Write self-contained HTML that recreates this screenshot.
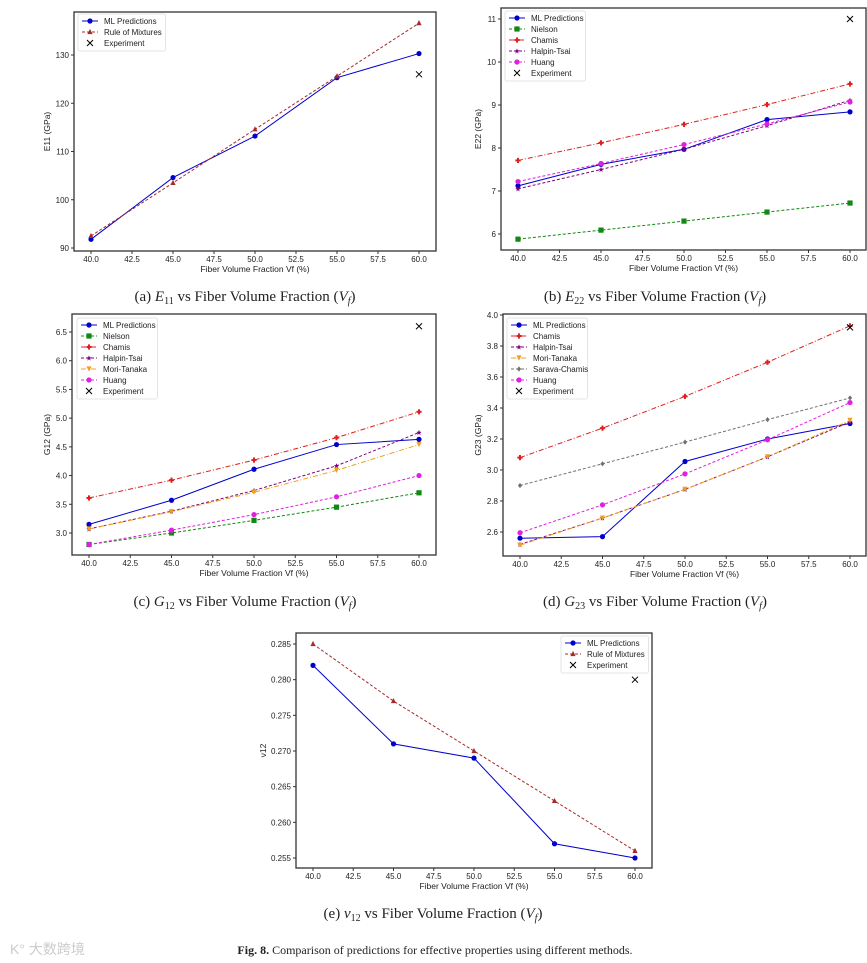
<!DOCTYPE html>
<html><head><meta charset="utf-8"><style>
body{margin:0;background:#fff;width:867px;height:963px;overflow:hidden;font-family:"Liberation Sans",sans-serif}
svg{position:absolute;left:0;top:0}
.cap{font-family:"Liberation Serif",serif;font-size:15px;fill:#222}
</style></head><body>
<svg id="fig" width="867" height="963"></svg>
<script>
const xCats=[40,45,50,55,60];
const xTicks=[40,42.5,45,47.5,50,52.5,55,57.5,60];
// (a) E11
const aML=[91.8,104.6,113.2,125.3,130.3];
const aRoM=[92.5,103.5,114.6,125.6,136.6];
const aExp=[126];
const aTicks=[90,100,110,120,130];
// (b) E22
const bML=[7.12,7.62,7.97,8.66,8.84];
const bNielson=[5.88,6.09,6.30,6.51,6.72];
const bChamis=[7.71,8.12,8.55,9.01,9.49];
const bHT=[7.05,7.50,7.97,8.52,9.11];
const bHuang=[7.22,7.64,8.08,8.56,9.07];
const bExp=[11];
const bTicks=[6,7,8,9,10,11];
// (c) G12
const cML=[3.15,3.57,4.11,4.54,4.63];
const cNielson=[2.80,3.00,3.22,3.45,3.70];
const cChamis=[3.61,3.92,4.27,4.66,5.11];
const cHT=[3.07,3.38,3.74,4.17,4.75];
const cMT=[3.07,3.37,3.71,4.09,4.54];
const cHuang=[2.80,3.05,3.32,3.63,4.00];
const cExp=[6.6];
const cTicks=[3.0,3.5,4.0,4.5,5.0,5.5,6.0,6.5];
// (d) G23
const dML=[2.56,2.57,3.055,3.20,3.30];
const dChamis=[3.08,3.27,3.475,3.695,3.93];
const dHT=[2.52,2.69,2.875,3.085,3.31];
const dMT=[2.515,2.69,2.875,3.085,3.32];
const dSC=[2.90,3.04,3.18,3.325,3.465];
const dHuang=[2.595,2.775,2.975,3.195,3.435];
const dExp=[3.92];
const dTicks=[2.6,2.8,3.0,3.2,3.4,3.6,3.8,4.0];
// (e) nu12
const eML=[0.282,0.271,0.269,0.257,0.255];
const eRoM=[0.285,0.277,0.270,0.263,0.256];
const eExp=[0.280];
const eTicks=[0.255,0.260,0.265,0.270,0.275,0.280,0.285];

const NS='http://www.w3.org/2000/svg';
const svg=document.getElementById('fig');
function mk(tag,attrs,parent){const e=document.createElementNS(NS,tag);for(const k in attrs)e.setAttribute(k,attrs[k]);(parent||svg).appendChild(e);return e;}
const STY={
 ml:{c:'#0000cc',d:'',m:'circle',name:'ML Predictions'},
 rom:{c:'#a52a2a',d:'3,2',m:'tri',name:'Rule of Mixtures'},
 niel:{c:'#118811',d:'3,2',m:'square',name:'Nielson'},
 cham:{c:'#e02020',d:'5,2,1,2',m:'plus',name:'Chamis'},
 ht:{c:'#800080',d:'3,2',m:'star',name:'Halpin-Tsai'},
 mt:{c:'#f0a020',d:'5,2,1,2',m:'dtri',name:'Mori-Tanaka'},
 sc:{c:'#707070',d:'3,2',m:'diamond',name:'Sarava-Chamis'},
 hu:{c:'#e020e0',d:'3,2',m:'circle',name:'Huang'}
};
function marker(g,type,x,y,c){
 const r=2.6;
 if(type==='circle')mk('circle',{cx:x,cy:y,r:r,fill:c},g);
 else if(type==='square')mk('rect',{x:x-r,y:y-r,width:2*r,height:2*r,fill:c},g);
 else if(type==='tri')mk('polygon',{points:`${x},${y-r-0.5} ${x-r},${y+r-0.5} ${x+r},${y+r-0.5}`,fill:c},g);
 else if(type==='dtri')mk('polygon',{points:`${x},${y+r} ${x-r},${y-r} ${x+r},${y-r}`,fill:c},g);
 else if(type==='diamond')mk('polygon',{points:`${x},${y-r} ${x+r*0.8},${y} ${x},${y+r} ${x-r*0.8},${y}`,fill:c},g);
 else if(type==='plus'){mk('rect',{x:x-r,y:y-1,width:2*r,height:2,fill:c},g);mk('rect',{x:x-1,y:y-r,width:2,height:2*r,fill:c},g);}
 else if(type==='star')mk('polygon',{points:`${x},${y-r} ${x+0.8},${y-0.8} ${x+r},${y-0.6} ${x+1.2},${y+0.6} ${x+1.6},${y+r} ${x},${y+1.3} ${x-1.6},${y+r} ${x-1.2},${y+0.6} ${x-r},${y-0.6} ${x-0.8},${y-0.8}`,fill:c},g);
 else if(type==='x'){mk('path',{d:`M${x-3},${y-3}L${x+3},${y+3}M${x-3},${y+3}L${x+3},${y-3}`,stroke:'#000','stroke-width':1},g);}
}
function chart(o){
 const g=mk('g',{});
 
 
 const sx=v=>o.x40+(v-40)*(o.x60-o.x40)/20;
 const sy=v=>o.ya+(v-o.va)*(o.yb-o.ya)/(o.vb-o.va);
 mk('rect',{x:o.L,y:o.T,width:o.R-o.L,height:o.B-o.T,fill:'none',stroke:'#333','stroke-width':1.3},g);
 xTicks.forEach(t=>{const x=sx(t);mk('line',{x1:x,x2:x,y1:o.B,y2:o.B+3,stroke:'#333'},g);
  const tx=mk('text',{x:x,y:o.B+11,'font-size':8,'text-anchor':'middle',fill:'#222'},g);tx.textContent=t.toFixed(1);});
 o.yt.forEach(t=>{const y=sy(t);mk('line',{x1:o.L-3,x2:o.L,y1:y,y2:y,stroke:'#333'},g);
  const tx=mk('text',{x:o.L-5,y:y+3,'font-size':8,'text-anchor':'end',fill:'#222'},g);tx.textContent=t.toFixed(o.dec);});
 const xl=mk('text',{x:(o.L+o.R)/2,y:o.B+21,'font-size':8.5,'text-anchor':'middle',fill:'#222'},g);xl.textContent='Fiber Volume Fraction Vf (%)';
 
 const yx=o.L-o.ylOff, yy=(o.T+o.B)/2;
 const yl=mk('text',{x:yx,y:yy,'font-size':8.5,'text-anchor':'middle',fill:'#222',transform:`rotate(-90 ${yx} ${yy})`},g);yl.textContent=o.ylabel;
 
 o.series.forEach(([key,vals])=>{const s=STY[key];
  const sg=mk('g',{},g);
  mk('polyline',{points:vals.map((v,i)=>sx(xCats[i])+','+sy(v)).join(' '),fill:'none',stroke:s.c,'stroke-width':1,'stroke-dasharray':s.d},sg);
  vals.forEach((v,i)=>marker(sg,s.m,sx(xCats[i]),sy(v),s.c));});
 const eg=mk('g',{},g);
 o.exp.forEach(v=>marker(eg,'x',sx(60),sy(v)));
 const keys=o.series.map(s=>s[0]).concat(['exp']);
 const lg=mk('g',{},g);
 let maxw=0;keys.forEach(k=>{const n=k==='exp'?'Experiment':STY[k].name;maxw=Math.max(maxw,n.length);});
 const w=30+maxw*3.6,h=keys.length*11+4;
 mk('rect',{x:o.lx,y:o.ly,width:w,height:h,fill:'#fff',stroke:'#ddd','stroke-width':0.8,rx:2},lg);
 keys.forEach((k,i)=>{const y=o.ly+7+i*11;
  const eg2=mk('g',{},lg);
  if(k==='exp'){marker(eg2,'x',o.lx+12,y);}else{const s=STY[k];
   mk('line',{x1:o.lx+4,x2:o.lx+20,y1:y,y2:y,stroke:s.c,'stroke-width':1,'stroke-dasharray':s.d},eg2);marker(eg2,s.m,o.lx+12,y,s.c);}
  const t=mk('text',{x:o.lx+26,y:y+3,'font-size':8,fill:'#222'},eg2);t.textContent=k==='exp'?'Experiment':STY[k].name;});
}
chart({name:'chart-e11',L:74,T:12,R:436,B:251,x40:91,x60:419,va:130,ya:55,vb:90,yb:248,yt:aTicks,dec:0,ylabel:'E11 (GPa)',ylOff:24,
 series:[['ml',aML],['rom',aRoM]],exp:aExp,lx:78,ly:14});
chart({name:'chart-e22',L:501,T:8,R:866,B:250,x40:518,x60:850,va:11,ya:19,vb:6,yb:234,yt:bTicks,dec:0,ylabel:'E22 (GPa)',ylOff:20,
 series:[['ml',bML],['niel',bNielson],['cham',bChamis],['ht',bHT],['hu',bHuang]],exp:bExp,lx:505,ly:11});
chart({name:'chart-g12',L:72,T:314,R:436,B:555,x40:89,x60:419,va:6.5,ya:332,vb:3.0,yb:533,yt:cTicks,dec:1,ylabel:'G12 (GPa)',ylOff:22,
 series:[['ml',cML],['niel',cNielson],['cham',cChamis],['ht',cHT],['mt',cMT],['hu',cHuang]],exp:cExp,lx:77,ly:318});
chart({name:'chart-g23',L:503,T:314,R:866,B:556,x40:520,x60:850,va:4.0,ya:315,vb:2.6,yb:532,yt:dTicks,dec:1,ylabel:'G23 (GPa)',ylOff:22,
 series:[['ml',dML],['cham',dChamis],['ht',dHT],['mt',dMT],['sc',dSC],['hu',dHuang]],exp:dExp,lx:507,ly:318});
chart({name:'chart-nu12',L:296,T:633,R:652,B:868,x40:313,x60:635,va:0.285,ya:644,vb:0.255,yb:858,yt:eTicks,dec:3,ylabel:'ν12',ylOff:30,
 series:[['ml',eML],['rom',eRoM]],exp:eExp,lx:561,ly:636});
</script>
<svg width="867" height="963" style="pointer-events:none">
<text class="cap" x="245" y="301" text-anchor="middle">(a) <tspan font-style="italic">E</tspan><tspan font-size="10" dy="3">11</tspan><tspan dy="-3"> vs Fiber Volume Fraction (</tspan><tspan font-style="italic">V</tspan><tspan font-size="10" font-style="italic" dy="3">f</tspan><tspan dy="-3">)</tspan></text>
<text class="cap" x="655" y="301" text-anchor="middle">(b) <tspan font-style="italic">E</tspan><tspan font-size="10" dy="3">22</tspan><tspan dy="-3"> vs Fiber Volume Fraction (</tspan><tspan font-style="italic">V</tspan><tspan font-size="10" font-style="italic" dy="3">f</tspan><tspan dy="-3">)</tspan></text>
<text class="cap" x="245" y="606" text-anchor="middle">(c) <tspan font-style="italic">G</tspan><tspan font-size="10" dy="3">12</tspan><tspan dy="-3"> vs Fiber Volume Fraction (</tspan><tspan font-style="italic">V</tspan><tspan font-size="10" font-style="italic" dy="3">f</tspan><tspan dy="-3">)</tspan></text>
<text class="cap" x="655" y="606" text-anchor="middle">(d) <tspan font-style="italic">G</tspan><tspan font-size="10" dy="3">23</tspan><tspan dy="-3"> vs Fiber Volume Fraction (</tspan><tspan font-style="italic">V</tspan><tspan font-size="10" font-style="italic" dy="3">f</tspan><tspan dy="-3">)</tspan></text>
<text class="cap" x="433" y="918" text-anchor="middle">(e) <tspan font-style="italic">ν</tspan><tspan font-size="10" dy="3">12</tspan><tspan dy="-3"> vs Fiber Volume Fraction (</tspan><tspan font-style="italic">V</tspan><tspan font-size="10" font-style="italic" dy="3">f</tspan><tspan dy="-3">)</tspan></text>
<text x="435" y="954" text-anchor="middle" font-family="Liberation Serif,serif" font-size="12" font-weight="bold" fill="#222">Fig. 8. <tspan font-weight="normal">Comparison of predictions for effective properties using different methods.</tspan></text>
<text x="10" y="954" font-family="Liberation Sans,Noto Sans CJK SC,sans-serif" font-size="14" fill="#ccc">K° 大数跨境</text>
</svg>
</body></html>
